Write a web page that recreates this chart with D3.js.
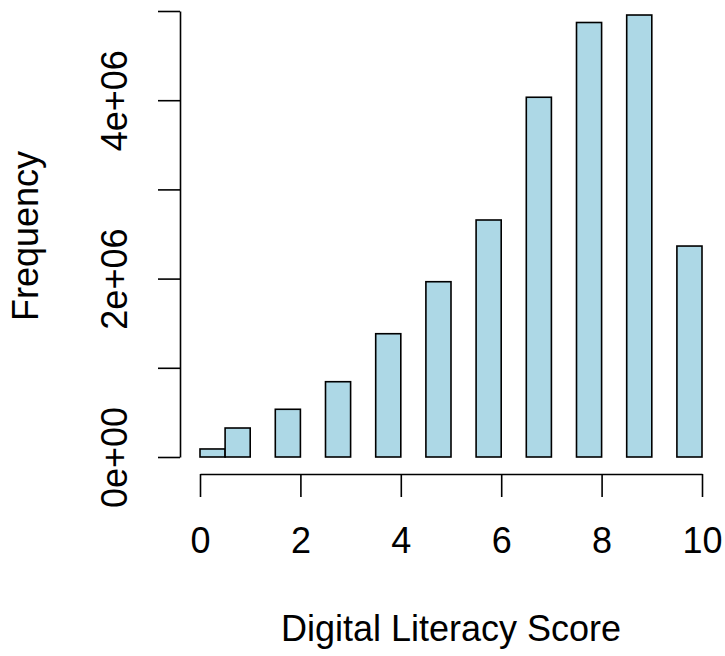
<!DOCTYPE html>
<html>
<head>
<meta charset="utf-8">
<script src="https://cdn.jsdelivr.net/npm/d3@7"></script>
<style>
  body { margin: 0; background: #fff; }
  text { font-family: "Liberation Sans", Arial, sans-serif; fill: #000; }
</style>
</head>
<body>
<div id="chart"></div>
<script>
// histogram bins (width 0.5), counts
var binStarts = [0, 0.5, 1, 1.5, 2, 2.5, 3, 3.5, 4, 4.5, 5, 5.5, 6, 6.5, 7, 7.5, 8, 8.5, 9, 9.5];
var binEnds   = [0.5, 1, 1.5, 2, 2.5, 3, 3.5, 4, 4.5, 5, 5.5, 6, 6.5, 7, 7.5, 8, 8.5, 9, 9.5, 10];
var counts    = [90000, 325000, 0, 535000, 0, 844000, 0, 1382000, 0, 1965000, 0,
                 2657000, 0, 4033000, 0, 4871000, 0, 4955000, 0, 2365000];

var xTicks = [0, 2, 4, 6, 8, 10];
var yTicks = [0, 1e6, 2e6, 3e6, 4e6, 5e6];
var yTickLabels = {0: "0e+00", 2000000: "2e+06", 4000000: "4e+06"};

var xTitle = "Digital Literacy Score";
var yTitle = "Frequency";

(function() {
  var width = 725, height = 656;
  var fontSize = "36px";

  var svg = d3.select("#chart")
    .append("svg")
      .attr("width", width)
      .attr("height", height);

  var x = d3.scaleLinear().domain([0, 10]).range([200, 702]);
  var y = d3.scaleLinear().domain([0, 5e6]).range([457, 11]);

  var bins = binStarts.map(function(s, i) {
    return {x0: s, x1: binEnds[i], n: counts[i]};
  });

  // bars
  svg.append("g")
    .selectAll("rect")
    .data(bins)
    .join("rect")
      .attr("x", function(d) { return x(d.x0); })
      .attr("width", function(d) { return x(d.x1) - x(d.x0); })
      .attr("y", function(d) { return y(d.n); })
      .attr("height", function(d) { return y(0) - y(d.n); })
      .attr("fill", "#ADD8E6")
      .attr("stroke", "#000")
      .attr("stroke-width", 1.6);

  // x axis
  var gx = svg.append("g")
    .attr("transform", "translate(0,474)")
    .call(d3.axisBottom(x).tickValues(xTicks).tickSize(23).tickSizeOuter(0)
      .tickFormat(d3.format("d")));
  gx.select(".domain").attr("stroke-width", 1.6);
  gx.selectAll(".tick line").attr("stroke-width", 1.6);
  gx.selectAll(".tick text")
    .attr("y", 79).attr("dy", 0)
    .style("font-size", fontSize)
    .style("font-family", "'Liberation Sans', Arial, sans-serif");

  // y axis
  var gy = svg.append("g")
    .attr("transform", "translate(180,0)")
    .call(d3.axisLeft(y).tickValues(yTicks).tickSize(22).tickSizeOuter(0)
      .tickFormat(function(d) { return yTickLabels[d] || ""; }));
  gy.select(".domain").attr("stroke-width", 1.6);
  gy.selectAll(".tick line").attr("stroke-width", 1.6);
  gy.selectAll(".tick text")
    .attr("x", 0).attr("dy", 0)
    .attr("text-anchor", "middle")
    .attr("transform", "translate(-53,0) rotate(-90)")
    .style("font-size", fontSize)
    .style("font-family", "'Liberation Sans', Arial, sans-serif");

  // titles
  svg.append("text")
    .attr("x", 451)
    .attr("y", 641)
    .attr("text-anchor", "middle")
    .style("font-size", fontSize)
    .text(xTitle);

  svg.append("text")
    .attr("transform", "translate(38,236) rotate(-90)")
    .attr("text-anchor", "middle")
    .style("font-size", fontSize)
    .text(yTitle);
})();
</script>
</body>
</html>
